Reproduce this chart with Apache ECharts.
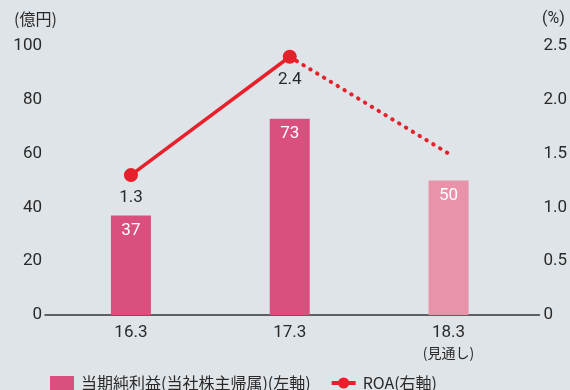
<!DOCTYPE html>
<html>
<head>
<meta charset="utf-8">
<script src="https://cdn.jsdelivr.net/npm/echarts@6/dist/echarts.min.js"></script>
<style>
  html, body { margin: 0; padding: 0; background: #dfe4e8; }
  #chart { width: 570px; height: 390px; }
</style>
</head>
<body>
<div id="chart"></div>
<script>
// Fiscal periods shown along the x axis
const categories = ['16.3', '17.3', '18.3'];
const categoryNotes = ['', '', '(見通し)'];
// Net income attributable to owners of parent (100 million yen), left axis
const netIncome = [37, 73, 50];
// ROA (%), right axis: actuals and the forecast end point
const roaActual = [1.3, 2.4];
const roaForecast = 1.5;
// Tick labels
const leftTicks = [0, 20, 40, 60, 80, 100];
const rightTicks = [0, 0.5, 1.0, 1.5, 2.0, 2.5];

const BAR = '#d9507f';
const BAR_LIGHT = '#e893aa';
const RED = '#e6212b';
const TEXT = '#2a2a2a';
const NUM_FONT = 'Roboto, "Liberation Sans", sans-serif';
const JP_FONT = '"Noto Sans CJK JP", sans-serif';

const lastIdx = categories.length - 1;

const barData = netIncome.map((v, i) => ({
  value: [i, v],
  itemStyle: { color: i === lastIdx ? BAR_LIGHT : BAR }
}));
const roaData = roaActual.map((v, i) => [i, v]);
const roaDashed = [[roaActual.length - 1, roaActual[roaActual.length - 1]], [lastIdx, roaForecast]];

const chart = echarts.init(document.getElementById('chart'), null, { renderer: 'canvas' });

chart.setOption({
  backgroundColor: '#dfe4e8',
  animation: false,
  textStyle: { fontFamily: NUM_FONT },
  grid: { left: 45, right: 30, top: 46, bottom: 75, containLabel: false },
  xAxis: {
    type: 'value',
    min: -0.541,
    max: 2.572,
    splitLine: { show: false },
    axisTick: { show: false },
    axisLine: { show: true, lineStyle: { color: '#333', width: 1.5 } },
    axisLabel: {
      customValues: categories.map((c, i) => i),
      margin: 8,
      formatter: (v) => {
        const i = Math.round(v);
        return categoryNotes[i] ? '{num|' + categories[i] + '}\n{note|' + categoryNotes[i] + '}' : '{num|' + categories[i] + '}';
      },
      rich: {
        num: { fontFamily: NUM_FONT, fontSize: 17, color: TEXT, lineHeight: 20 },
        note: { fontFamily: JP_FONT, fontSize: 14, color: TEXT, lineHeight: 20 }
      }
    }
  },
  yAxis: [
    {
      type: 'value', min: 0, max: 100, interval: 20,
      splitLine: { show: false }, axisTick: { show: false }, axisLine: { show: false },
      axisLabel: { color: TEXT, fontSize: 17, margin: 3, fontFamily: NUM_FONT,
        formatter: (v) => leftTicks.includes(v) ? String(v) : '' }
    },
    {
      type: 'value', min: 0, max: 2.5, interval: 0.5,
      splitLine: { show: false }, axisTick: { show: false }, axisLine: { show: false },
      axisLabel: { color: TEXT, fontSize: 17, margin: 4, fontFamily: NUM_FONT,
        formatter: (v) => {
          const t = rightTicks.find(r => Math.abs(r - v) < 1e-9);
          return t === undefined ? '' : (t === 0 ? '0' : t.toFixed(1));
        } }
    }
  ],
  legend: {
    left: 45, top: 370,
    itemGap: 19,
    itemWidth: 24, itemHeight: 14,
    textStyle: { fontFamily: JP_FONT, fontSize: 16, color: TEXT, padding: [0, 0, 0, 2] },
    data: [
      { name: '当期純利益(当社株主帰属)(左軸)', icon: 'rect' },
      { name: 'ROA(右軸)', lineStyle: { width: 4 } }
    ]
  },
  graphic: [
    { type: 'text', left: 14, top: 11, style: { text: '(億円)', font: '16px "Noto Sans CJK JP"', fill: TEXT } },
    { type: 'text', left: 542, top: 11, style: { text: '(%)', font: '16px Roboto', fill: TEXT } }
  ],
  series: [
    {
      name: '当期純利益(当社株主帰属)(左軸)',
      type: 'bar',
      yAxisIndex: 0,
      barWidth: 40,
      itemStyle: { color: BAR },
      label: {
        show: true, position: 'insideTop', distance: 7,
        color: '#fff', fontSize: 17, fontFamily: NUM_FONT,
        formatter: (p) => String(p.value[1])
      },
      data: barData,
      z: 2
    },
    {
      name: 'ROA(右軸)',
      type: 'line',
      yAxisIndex: 1,
      symbol: 'circle',
      symbolSize: 14,
      itemStyle: { color: RED },
      lineStyle: { color: RED, width: 3.5 },
      label: {
        show: true, position: 'bottom', distance: 7,
        color: TEXT, fontSize: 17, fontFamily: NUM_FONT,
        formatter: (p) => p.value[1].toFixed(1)
      },
      data: roaData,
      z: 4
    },
    {
      name: 'ROA見通し',
      type: 'line',
      yAxisIndex: 1,
      symbol: 'none',
      lineStyle: { color: RED, width: 4, type: [0.5, 7.5], cap: 'round' },
      data: roaDashed,
      z: 3
    }
  ]
});
</script>
</body>
</html>
